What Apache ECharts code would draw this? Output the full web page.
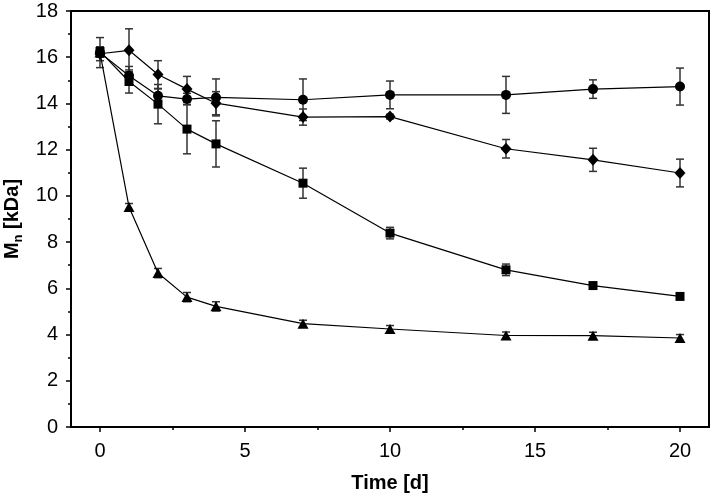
<!DOCTYPE html>
<html><head><meta charset="utf-8">
<script src="https://cdn.jsdelivr.net/npm/echarts@6/dist/echarts.min.js"></script>
<style>html,body{margin:0;padding:0;background:#fff}#c{width:712px;height:502px}</style>
</head><body><div id="c"></div>
<script>
const time = [0, 1, 2, 3, 4, 7, 10, 14, 17, 20];
const circleMn = [16.2, 15.2, 14.33, 14.19, 14.26, 14.16, 14.37, 14.37, 14.62, 14.73];
const circleErr = [0.65, 0.4, 0.3, 0.25, 0.8, 0.9, 0.6, 0.8, 0.4, 0.8];
const diamondMn = [16.15, 16.3, 15.25, 14.62, 14.01, 13.41, 13.43, 12.04, 11.56, 10.99];
const diamondErr = [0.3, 0.93, 0.6, 0.55, 0.5, 0.35, 0.1, 0.4, 0.5, 0.6];
const squareMn = [16.25, 14.95, 13.97, 12.89, 12.25, 10.55, 8.39, 6.8, 6.12, 5.65];
const squareErr = [0.2, 0.5, 0.85, 1.07, 1.0, 0.65, 0.25, 0.25, 0.1, 0.08];
const triangleMn = [16.2, 9.52, 6.66, 5.62, 5.22, 4.47, 4.24, 3.96, 3.95, 3.85];
const triangleErr = [0.2, 0.15, 0.2, 0.2, 0.2, 0.15, 0.15, 0.15, 0.15, 0.15];
const xMajorTicks = [0, 5, 10, 15, 20];
const xMinorTicks = [2.5, 7.5, 12.5, 17.5];

const FONT = 'Liberation Sans, Arial, sans-serif';

function pts(ys) { return time.map((t, i) => [t, ys[i]]); }
function errData(ys, es) { return time.map((t, i) => [t, ys[i] - es[i], ys[i] + es[i]]); }

function errSeries(ys, es) {
  return {
    type: 'custom', z: 1,
    data: errData(ys, es),
    encode: { x: 0, y: [1, 2] },
    renderItem: function (params, api) {
      const x = api.value(0);
      const lo = api.coord([x, api.value(1)]);
      const hi = api.coord([x, api.value(2)]);
      const w = 4;
      const st = { stroke: '#333', lineWidth: 1.5 };
      return {
        type: 'group',
        children: [
          { type: 'line', shape: { x1: lo[0], y1: lo[1], x2: hi[0], y2: hi[1] }, style: st },
          { type: 'line', shape: { x1: lo[0] - w, y1: lo[1], x2: lo[0] + w, y2: lo[1] }, style: st },
          { type: 'line', shape: { x1: hi[0] - w, y1: hi[1], x2: hi[0] + w, y2: hi[1] }, style: st }
        ]
      };
    }
  };
}

function lineSeries(ys, symbol, size) {
  return {
    type: 'line', z: 3,
    data: pts(ys),
    symbol: symbol, symbolSize: size, showSymbol: true,
    lineStyle: { color: '#000', width: 1.2 },
    itemStyle: { color: '#000', borderWidth: 0 },
    animation: false
  };
}

const chart = echarts.init(document.getElementById('c'), null, { renderer: 'canvas' });
chart.setOption({
  animation: false,
  backgroundColor: '#fff',
  grid: { left: 71, top: 11, right: 3, bottom: 75, containLabel: false, outerBoundsMode: 'none', show: true, borderColor: '#000', borderWidth: 2, backgroundColor: 'transparent' },
  xAxis: [{
    type: 'value', min: -1, max: 21,
    name: 'Time [d]', nameLocation: 'middle', nameGap: 46,
    nameTextStyle: { fontFamily: FONT, fontSize: 20, fontWeight: 'bold', color: '#000' },
    axisLine: { show: true, onZero: false, lineStyle: { color: '#000', width: 2 } },
    axisTick: { show: true, inside: false, length: 5, customValues: xMajorTicks, lineStyle: { color: '#000', width: 1.5 } },
    axisLabel: { show: true, customValues: xMajorTicks, margin: 14, fontFamily: FONT, fontSize: 20, color: '#000' },
    splitLine: { show: false }
  }, {
    type: 'value', min: -1, max: 21, position: 'bottom', gridIndex: 0,
    axisLine: { show: false, onZero: false },
    axisTick: { show: true, inside: false, length: 3, customValues: xMinorTicks, lineStyle: { color: '#000', width: 1.5 } },
    axisLabel: { show: false },
    splitLine: { show: false }
  }],
  yAxis: {
    type: 'value', min: 0, max: 18, interval: 2,
    name: '{m|M}{s|n}{m| [kDa]}', nameLocation: 'middle', nameGap: 41, nameRotate: 90,
    nameTextStyle: {
      color: '#000', fontFamily: FONT, fontSize: 20, fontWeight: 'bold',
      rich: {
        m: { fontFamily: FONT, fontSize: 20, fontWeight: 'bold', color: '#000', lineHeight: 24 },
        s: { fontFamily: FONT, fontSize: 13, fontWeight: 'bold', color: '#000', verticalAlign: 'bottom', lineHeight: 24, padding: [9, 0, 0, 0] }
      }
    },
    axisLine: { show: true, onZero: false, lineStyle: { color: '#000', width: 2 } },
    axisTick: { show: true, inside: false, length: 5, lineStyle: { color: '#000', width: 1.5 } },
    minorTick: { show: true, splitNumber: 2, length: 3, lineStyle: { color: '#000', width: 1.5 } },
    axisLabel: { margin: 13, fontFamily: FONT, fontSize: 20, color: '#000' },
    splitLine: { show: false }
  },
  series: [
    errSeries(circleMn, circleErr),
    errSeries(diamondMn, diamondErr),
    errSeries(squareMn, squareErr),
    errSeries(triangleMn, triangleErr),
    lineSeries(circleMn, 'circle', 10),
    lineSeries(diamondMn, 'diamond', [11, 12]),
    lineSeries(squareMn, 'rect', 9),
    lineSeries(triangleMn, 'triangle', [11, 10])
  ]
});
</script></body></html>
